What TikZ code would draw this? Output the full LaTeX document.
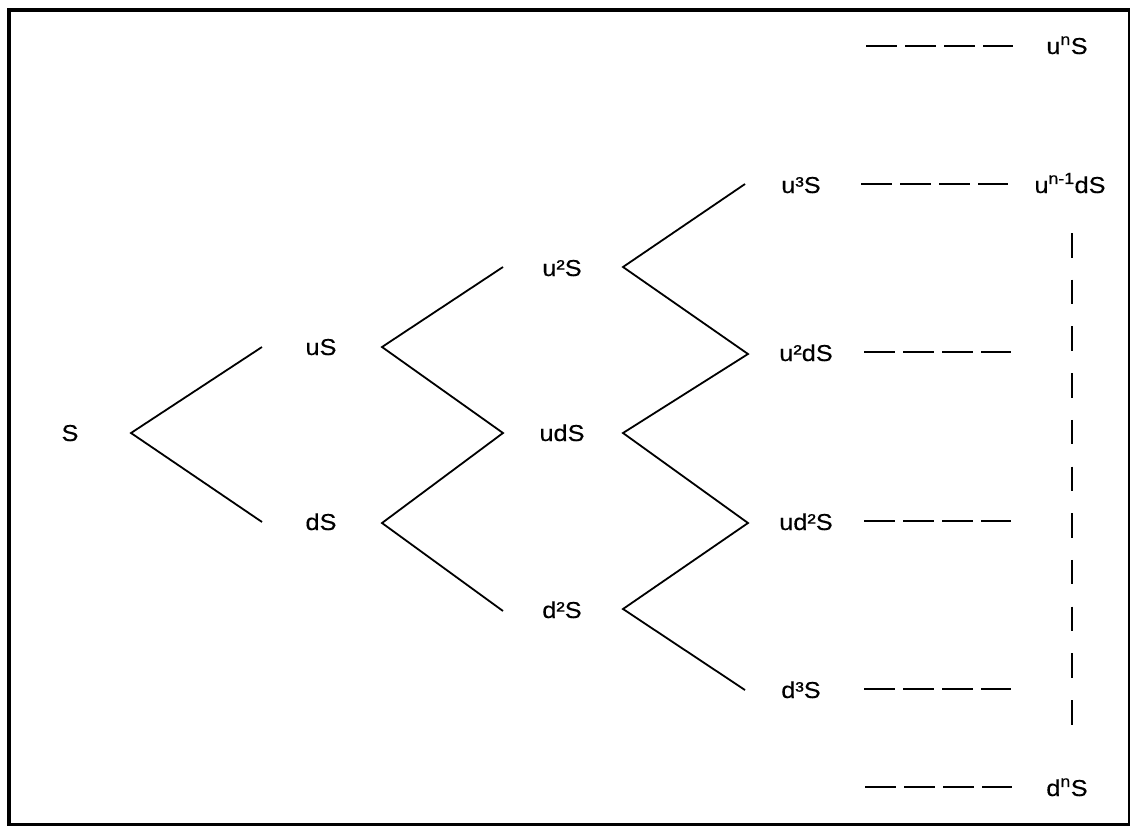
\documentclass[tikz,border=0pt]{standalone}
\usepackage{fontspec}
\setmainfont{Liberation Sans}[FakeStretch=1.1,FakeBold=0.4]
\begin{document}
\begin{tikzpicture}[x=1pt,y=-1pt,
  lbl/.style={anchor=base,inner sep=0pt,font=\fontsize{23}{27}\selectfont},
  branch/.style={line width=1.8pt},
  hdash/.style={line width=1.9pt,dash pattern=on 30.5pt off 8.5pt},
  vdash/.style={line width=1.9pt,dash pattern=on 24.5pt off 22.2pt},
  frame/.style={line width=4pt}]
\useasboundingbox (0,0) rectangle (1130,825);
\draw[frame] (9,10) rectangle (1129.5,825);
% labels (x = centre, y = baseline)
\node[lbl] (S)   at (70,441)  {S};
\node[lbl] (uS)  at (321,355) {uS};
\node[lbl] (dS)  at (321,530) {dS};
\node[lbl] (uuS) at (562,276) {u²S};
\node[lbl] (udS) at (562,441) {udS};
\node[lbl] (ddS) at (562,618) {d²S};
\node[lbl] (u3S) at (801,193) {u³S};
\node[lbl] (uudS) at (806,361) {u²dS};
\node[lbl] (uddS) at (806,530) {ud²S};
\node[lbl] (d3S) at (801,698) {d³S};
\node[lbl] (unS) at (1067,54) {u\textsuperscript{n}S};
\node[lbl] (undS) at (1070,193) {u\textsuperscript{n-1}dS};
\node[lbl] (dnS) at (1067,796) {d\textsuperscript{n}S};
% branch points
\coordinate (S-r) at (131,433);
\coordinate (uS-l) at (262,347);
\coordinate (dS-l) at (262,522);
\coordinate (uS-r) at (382,347);
\coordinate (dS-r) at (382,523);
\coordinate (uuS-l) at (503,267);
\coordinate (udS-l) at (503,433);
\coordinate (ddS-l) at (503,611);
\coordinate (uuS-r) at (623,267);
\coordinate (udS-r) at (623,433);
\coordinate (ddS-r) at (623,609);
\coordinate (u3S-l) at (745,184);
\coordinate (uudS-l) at (748,354);
\coordinate (uddS-l) at (748,523);
\coordinate (d3S-l) at (745,690);
\draw[branch] (uS-l) -- (S-r) -- (dS-l);
\draw[branch] (uuS-l) -- (uS-r) -- (udS-l) -- (dS-r) -- (ddS-l);
\draw[branch] (u3S-l) -- (uuS-r) -- (uudS-l) -- (udS-r) -- (uddS-l) -- (ddS-r) -- (d3S-l);
% dashed continuation
\coordinate (h1a) at (866,46);  \coordinate (h1b) at (1013,46);
\coordinate (h2a) at (861,184); \coordinate (h2b) at (1008,184);
\coordinate (h3a) at (864,352); \coordinate (h3b) at (1011,352);
\coordinate (h4a) at (864,521); \coordinate (h4b) at (1011,521);
\coordinate (h5a) at (864,689); \coordinate (h5b) at (1011,689);
\coordinate (h6a) at (865,787); \coordinate (h6b) at (1012,787);
\draw[hdash] (h1a) -- (h1b);
\draw[hdash] (h2a) -- (h2b);
\draw[hdash] (h3a) -- (h3b);
\draw[hdash] (h4a) -- (h4b);
\draw[hdash] (h5a) -- (h5b);
\draw[hdash] (h6a) -- (h6b);
\coordinate (va) at (1072,233);
\coordinate (vb) at (1072,727);
\draw[vdash] (va) -- (vb);
\end{tikzpicture}
\end{document}
